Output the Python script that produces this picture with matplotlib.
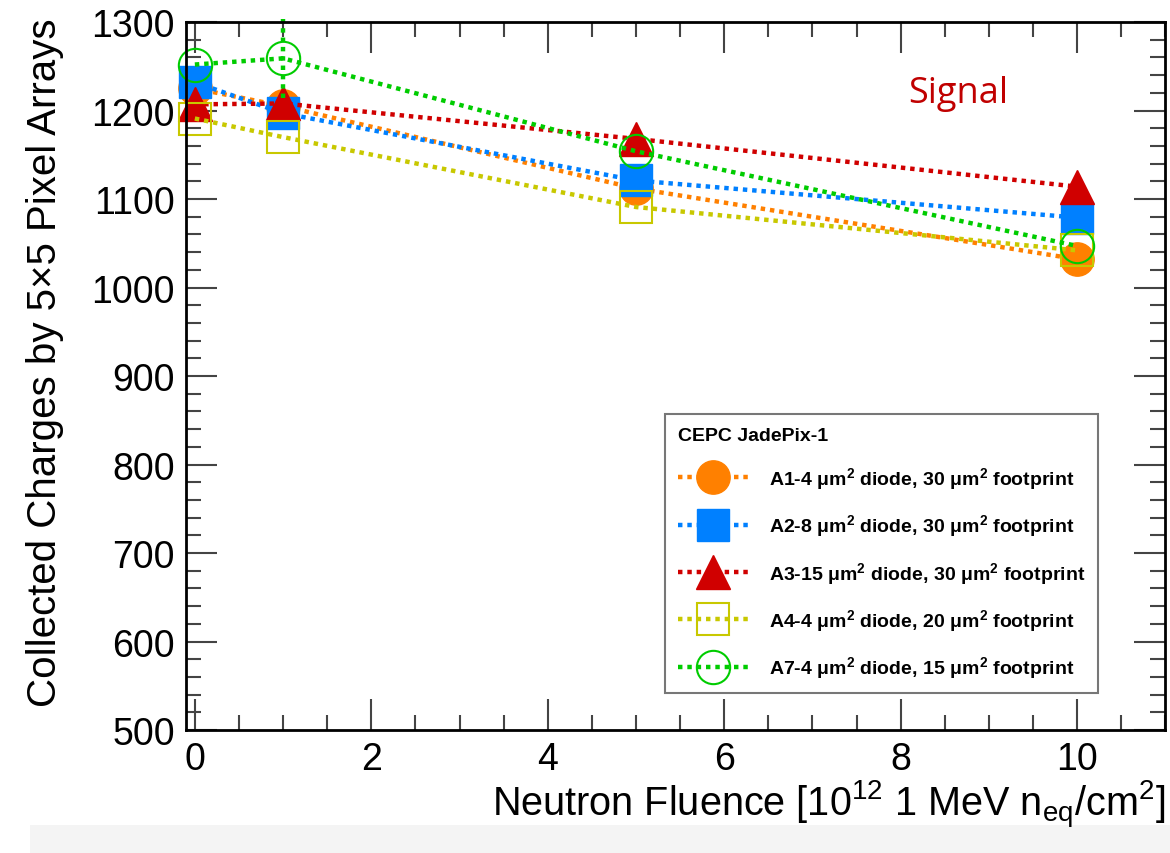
import numpy as np
import matplotlib.pyplot as plt
from matplotlib.ticker import MultipleLocator
from matplotlib.patches import Rectangle

plt.rcParams['font.family'] = ['Liberation Sans', 'DejaVu Sans']
plt.rcParams['mathtext.fontset'] = 'custom'
plt.rcParams['mathtext.rm'] = 'Liberation Sans'
plt.rcParams['mathtext.bf'] = 'Liberation Sans:bold'

fluence = [0, 1, 5, 10]
a1 = [1225, 1205, 1112, 1032]
a2 = [1232, 1197, 1121, 1079]
a3 = [1207, 1208, 1168, 1114]
a4 = [1191, 1170, 1091, 1042]
a7 = [1252, 1259, 1154, 1047]
a7_err = [0, 45, 0, 0]

labels = [
    r'A1-4 $\mathbf{\mu m^2}$ diode, 30 $\mathbf{\mu m^2}$ footprint',
    r'A2-8 $\mathbf{\mu m^2}$ diode, 30 $\mathbf{\mu m^2}$ footprint',
    r'A3-15 $\mathbf{\mu m^2}$ diode, 30 $\mathbf{\mu m^2}$ footprint',
    r'A4-4 $\mathbf{\mu m^2}$ diode, 20 $\mathbf{\mu m^2}$ footprint',
    r'A7-4 $\mathbf{\mu m^2}$ diode, 15 $\mathbf{\mu m^2}$ footprint',
]
colors = ['#ff8000', '#0080ff', '#d00000', '#c8c800', '#00cc00']

fig = plt.figure(figsize=(11.7, 8.54), dpi=100)
ax = fig.add_axes([0.159, 0.144, 0.837, 0.829])

lw = 3.2
dots = (0, (1, 1.1))
style = dict(linestyle=dots, lw=lw, clip_on=False)
ax.plot(fluence, a1, color=colors[0], marker='o', ms=24, mfc=colors[0],
        mec=colors[0], label=labels[0], **style)
ax.plot(fluence, a2, color=colors[1], marker='s', ms=23, mfc=colors[1],
        mec=colors[1], label=labels[1], **style)
ax.plot(fluence, a3, color=colors[2], marker='^', ms=25, mfc=colors[2],
        mec=colors[2], label=labels[2], **style)
ax.plot(fluence, a4, color=colors[3], marker='s', ms=23, mfc='none',
        mec=colors[3], mew=1.5, label=labels[3], **style)
eb = ax.errorbar(fluence, a7, yerr=a7_err, fmt='none', ecolor=colors[4],
                 elinewidth=lw, capsize=0, clip_on=False)
for lc in eb.lines[2]:
    lc.set_linestyle(dots)
ax.plot(fluence, a7, color=colors[4], marker='o', ms=24, mfc='none',
        mec=colors[4], mew=1.5, label=labels[4], **style)

ax.set_xlim(-0.1, 11)
ax.set_ylim(500, 1300)
ax.xaxis.set_major_locator(MultipleLocator(2))
ax.xaxis.set_minor_locator(MultipleLocator(0.5))
ax.yaxis.set_major_locator(MultipleLocator(100))
ax.yaxis.set_minor_locator(MultipleLocator(20))
ax.tick_params(which='both', direction='in', top=True, right=True,
               labelsize=27, width=1.5, color='#444444')
ax.tick_params(which='major', length=22)
ax.tick_params(which='minor', length=11)
ax.tick_params(axis='x', pad=8)
ax.tick_params(axis='y', pad=8)
for s in ax.spines.values():
    s.set_linewidth(2)

ax.set_ylabel('Collected Charges by 5\u00d75 Pixel Arrays', fontsize=29)
ax.yaxis.set_label_coords(-0.125, 0.52)
ax.set_xlabel(r'Neutron Fluence [10$\mathregular{^{12}}$ 1 MeV n$\mathregular{_{eq}}$/cm$\mathregular{^2}$]',
              fontsize=28.5, ha='right', va='top')
ax.xaxis.set_label_coords(1.0, -0.068)

ax.text(8.65, 1220, 'Signal', color='#c00000', fontsize=26, ha='center',
        va='center', family=['Open Sans', 'DejaVu Sans'])

leg = ax.legend(loc='upper left', bbox_to_anchor=(0.489, 0.446),
                title='CEPC JadePix-1', fontsize=14, title_fontsize=14,
                frameon=True, fancybox=False, edgecolor='#555555',
                handlelength=3.6, handletextpad=1.1, labelspacing=1.1,
                borderpad=0.65, borderaxespad=0, markerscale=1.0)
leg.get_frame().set_linewidth(1.5)
leg._legend_box.align = 'left'
for t in leg.get_texts():
    t.set_fontweight('bold')
leg.get_title().set_fontweight('bold')

fig.patches.append(Rectangle((0.026, 0.0), 0.974, 0.033, transform=fig.transFigure,
                             facecolor='#f4f4f4', edgecolor='none', zorder=-1))

fig.savefig('out.png', dpi=100)
